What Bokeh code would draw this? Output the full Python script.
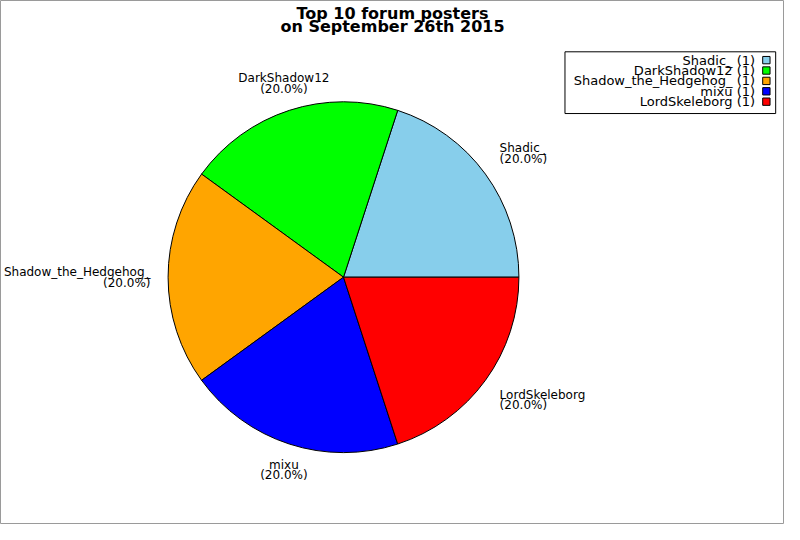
import math
from bokeh.plotting import figure
from bokeh.models import Range1d
from bokeh.core.properties import value
from bokeh.embed import file_html
from bokeh.resources import INLINE

title_lines = ["Top 10 forum posters", "on September 26th 2015"]
posters = ["Shadic_", "DarkShadow12", "Shadow_the_Hedgehog_", "mixu", "LordSkeleborg"]
posts = [1, 1, 1, 1, 1]
colors = ["#87CEEB", "#00FF00", "#FFA500", "#0000FF", "#FF0000"]

# work in the reference canvas (800x540, y from the top), flipped for bokeh
W, H = 800, 540
def Y(y):
    return H - y

FONT = value("DejaVu Sans")

p = figure(width=784, height=524, x_range=Range1d(0, W), y_range=Range1d(2.65, 537.35),
           output_backend="svg", toolbar_location=None, min_border=0,
           x_axis_location=None, y_axis_location=None)
p.grid.visible = False
p.outline_line_color = "#9a9a9a"
p.background_fill_color = "white"

# pie
cx, cy, r = 350, 285, 179
total = sum(posts)
starts, ends, mids = [], [], []
a = 0.0
for n in posts:
    da = 2 * math.pi * n / total
    starts.append(a)
    ends.append(a + da)
    mids.append(a + da / 2)
    a += da

p.wedge(x=cx, y=Y(cy), radius=r, start_angle=starts, end_angle=ends,
        fill_color=colors, line_color="black", line_width=1)

# slice labels: name + percentage, placed just outside the rim
for name, n, m in zip(posters, posts, mids):
    c, s = math.cos(m), math.sin(m)
    lx = cx + 1.1 * r * c
    ly = cy - 1.1 * r * s
    align = "left" if c > 0.5 else ("right" if c < -0.5 else "center")
    if s > 0.3:
        offs = (-16, -5)
    elif s < -0.3:
        offs = (4, 15)
    else:
        offs = (-5.5, 5.5)
    pct = "(%.1f%%)" % (100.0 * n / total)
    p.text(x=[lx, lx], y=[Y(ly + offs[0]), Y(ly + offs[1])], text=[name, pct],
           text_align=align, text_baseline="middle", text_font=FONT,
           text_font_size="12px", text_color="black")

# title
p.text(x=[400, 400], y=[Y(16), Y(29)], text=title_lines, text_align="center",
       text_baseline="alphabetic", text_font=FONT, text_font_size="16px",
       text_font_style="bold", text_color="black")

# legend box
p.quad(left=576, right=791, top=Y(55), bottom=Y(118), fill_color="white",
       line_color="black", line_width=1)
rows = [Y(63.5 + 10.6 * i) for i in range(len(posters))]
p.text(x=[770] * len(posters), y=rows,
       text=["%s (%d)" % (nm, n) for nm, n in zip(posters, posts)],
       text_align="right", text_baseline="middle", text_font=FONT,
       text_font_size="13px", text_color="black")
p.rect(x=[781.5] * len(posters), y=rows, width=7.5, height=7.5,
       fill_color=colors, line_color="black", line_width=1)

open("out.html", "w").write(file_html(p, INLINE))
